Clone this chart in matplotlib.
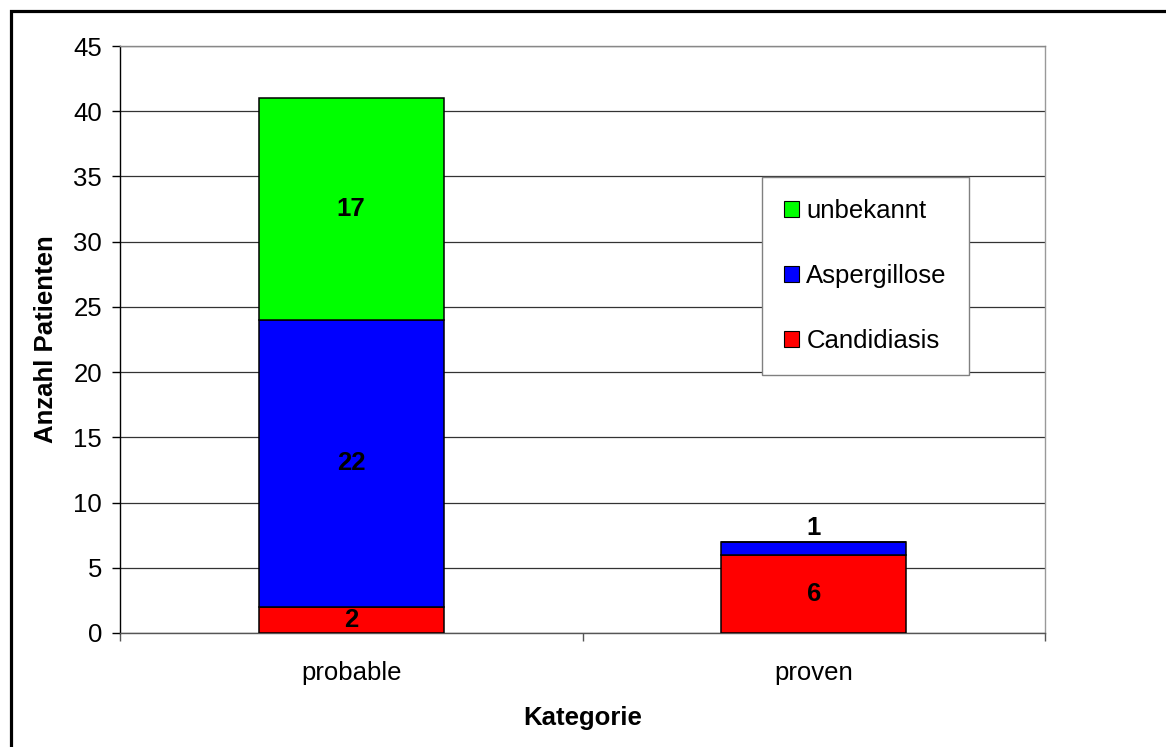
import matplotlib.pyplot as plt
from matplotlib.patches import Rectangle, Patch

plt.rcParams['font.family'] = ['Liberation Sans', 'DejaVu Sans']

# Patients per category, stacked by diagnosis
categories = ['probable', 'proven']
candidiasis = [2, 6]
aspergillose = [22, 1]
unbekannt = [17, 0]

series_names = ['Candidiasis', 'Aspergillose', 'unbekannt']
series_colors = ['#FF0000', '#0000FF', '#00FF00']

FS = 18.5

W, H = 1166, 747
fig = plt.figure(figsize=(W / 100, H / 100), dpi=100)
ax = fig.add_axes([120 / W, (H - 633) / H, 925 / W, 587 / H])

x = range(len(categories))
bottoms = [0] * len(categories)
bars = []
for vals, name, col in zip([candidiasis, aspergillose, unbekannt], series_names, series_colors):
    b = ax.bar(x, vals, width=0.4, bottom=bottoms, color=col,
               edgecolor='black', linewidth=1.1, label=name, zorder=3)
    bars.append(b)
    bottoms = [bt + v for bt, v in zip(bottoms, vals)]

# value labels inside segments (the small one goes on top)
lab_font = dict(fontsize=FS, fontweight='bold')
for b, vals in zip(bars, [candidiasis, aspergillose, unbekannt]):
    for rect, v in zip(b, vals):
        if v == 0:
            continue
        cx = rect.get_x() + rect.get_width() / 2
        if v < 2:
            ax.annotate(str(v), (cx, rect.get_y() + rect.get_height()),
                        xytext=(0, 1.5), textcoords='offset points',
                        ha='center', va='bottom', **lab_font)
        else:
            ax.text(cx, rect.get_y() + rect.get_height() / 2, str(v),
                    ha='center', va='center', **lab_font)

ax.set_xlim(-0.5, 1.5)
ax.set_ylim(0, 45)
ax.set_yticks(range(0, 50, 5))
ax.set_xticks(list(x))
ax.set_xticklabels(categories)
ax.set_xticks([-0.5, 0.5, 1.5], minor=True)

ax.tick_params(axis='y', direction='out', length=6, width=1, pad=7,
               labelsize=FS, color='black')
ax.tick_params(axis='x', which='major', length=0, pad=20, labelsize=FS)
ax.tick_params(axis='x', which='minor', length=6, width=1, color='#555555')

ax.yaxis.grid(True, color='#333333', linewidth=0.9, zorder=0)
ax.set_axisbelow(True)

ax.spines['left'].set_color('black')
ax.spines['bottom'].set_color('#555555')
ax.spines['top'].set_color('#888888')
ax.spines['right'].set_color('#999999')
for s in ax.spines.values():
    s.set_linewidth(1.0)

ax.set_xlabel('Kategorie', fontsize=FS, fontweight='bold', labelpad=15)
ax.set_ylabel('Anzahl Patienten', fontsize=FS, fontweight='bold', labelpad=11)

handles = [Patch(facecolor=c, edgecolor='black', linewidth=0.8)
           for c in series_colors][::-1]
leg = ax.legend(handles, series_names[::-1], loc='upper left',
                bbox_to_anchor=((762 - 120) / 925, (633 - 177) / 587),
                fontsize=FS, frameon=True, fancybox=False, framealpha=1,
                edgecolor='#808080', handlelength=0.58, handleheight=0.58,
                handletextpad=0.3, labelspacing=1.6, borderpad=0.85,
                borderaxespad=0)
leg.get_frame().set_linewidth(1.0)
leg.set_zorder(5)

# outer frame around the chart
fig.patches.append(Rectangle((10.5 / W, -0.1), 1.2, 1 - 11 / H + 0.1,
                             transform=fig.transFigure, fill=False,
                             edgecolor='black', linewidth=2.3))

fig.savefig('out.png', dpi=100)
plt.close(fig)
